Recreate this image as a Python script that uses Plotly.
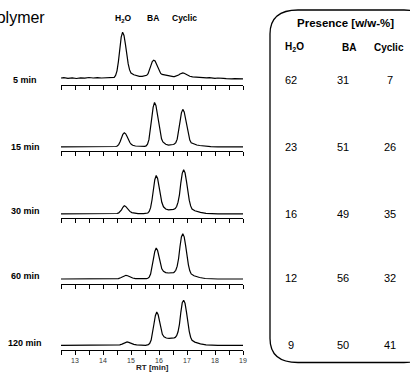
import plotly.graph_objects as go

# ---------------- data ----------------
panel_labels = ["5 min", "15 min", "30 min", "60 min", "120 min"]
peak_names = ["H<sub>2</sub>O", "BA", "Cyclic"]

rt_5min = [12.5, 12.6, 12.75, 12.9, 13.05, 13.2, 13.35, 13.5, 13.65, 13.8, 13.95, 14.1, 14.25, 14.35,
           14.40, 14.45, 14.50, 14.55, 14.60, 14.65, 14.70, 14.75, 14.80, 14.85, 14.90, 14.95, 15.00,
           15.10, 15.20, 15.30, 15.40, 15.46, 15.51, 15.56, 15.61, 15.66, 15.71, 15.76, 15.81, 15.86,
           15.91, 15.96, 16.01, 16.06, 16.11, 16.21, 16.31, 16.41, 16.51, 16.55, 16.60, 16.65, 16.70,
           16.75, 16.80, 16.85, 16.90, 16.95, 17.00, 17.05, 17.10, 17.20, 17.30, 17.40, 17.50, 17.60,
           17.70, 17.80, 17.90, 18.0, 18.1, 18.2, 18.3, 18.4, 18.5, 18.6, 18.7, 18.8, 18.9, 19.0]
sig_5min = [0.2, 0.5, -0.2, 0.3, -0.3, 0.4, 0.1, 0.7, 0.2, 0.6, 0.2, 0.5, 0.3, 0.6,
            0.9, 2.8, 7.4, 16.6, 29.4, 41, 46, 42.8, 34, 23.5, 14.3, 8.3, 5.2,
            3.4, 2.5, 1.9, 1.8, 2.0, 2.3, 2.9, 4.6, 7.8, 12.6, 16.6, 18, 17.2,
            13.8, 9.8, 6.5, 4.8, 3.8, 3.1, 2.2, 1.7, 1.5, 1.6, 1.9, 2.4, 3.2,
            4.2, 5.0, 5.3, 5.0, 4.2, 3.3, 2.5, 1.9, 1.4, 1.1, 1.0, 0.8, 0.6,
            0.4, 0.6, 0.1, -0.2, 0.2, -0.3, -0.1, -0.5, -0.2, -0.6, -0.4, -0.7, -0.5, -0.6]

rt_15min = [12.5, 13.0, 13.5, 14.0, 14.3, 14.40, 14.46, 14.51, 14.56, 14.61, 14.66, 14.71, 14.76,
            14.81, 14.86, 14.91, 14.96, 15.01, 15.06, 15.16, 15.30, 15.44, 15.49, 15.54, 15.59,
            15.64, 15.69, 15.74, 15.79, 15.84, 15.89, 15.94, 15.99, 16.04, 16.09, 16.14, 16.24,
            16.34, 16.44, 16.50, 16.55, 16.60, 16.65, 16.70, 16.75, 16.80, 16.85, 16.90, 16.95,
            17.00, 17.05, 17.10, 17.15, 17.25, 17.35, 17.45, 17.65, 17.85, 18.1, 18.5, 19.0]
sig_15min = [0, 0, 0, 0, 0, 0.1, 0.3, 0.8, 2.2, 5.0, 9.0, 12.5, 14.0,
             13.0, 10.4, 7.1, 4.3, 2.5, 1.5, 0.8, 0.4, 0.3, 0.4, 0.9, 2.7,
             7.1, 16.0, 28.4, 39.5, 44.4, 41.3, 32.9, 22.6, 13.8, 8.0, 4.9, 2.5,
             1.7, 1.8, 2.3, 2.8, 4.2, 7.6, 14.5, 25.0, 34.0, 37.4, 34.8, 27.7,
             19.1, 11.6, 6.7, 4.1, 2.6, 1.8, 1.3, 0.5, 0.1, 0, 0, 0]

rt_30min = [12.5, 13.0, 13.5, 14.0, 14.4, 14.50, 14.56, 14.61, 14.66, 14.71, 14.76, 14.81, 14.86,
            14.91, 14.96, 15.03, 15.12, 15.25, 15.45, 15.55, 15.60, 15.65, 15.70, 15.75, 15.80,
            15.85, 15.90, 15.95, 16.00, 16.05, 16.10, 16.16, 16.24, 16.34, 16.44, 16.52, 16.58,
            16.63, 16.68, 16.73, 16.78, 16.83, 16.88, 16.93, 16.98, 17.03, 17.08, 17.13, 17.18,
            17.28, 17.38, 17.48, 17.68, 17.88, 18.1, 18.5, 19.0]
sig_30min = [0, 0, 0, 0, 0, 0.3, 0.9, 2.0, 4.0, 6.5, 8.0, 7.4, 5.8,
             3.9, 2.4, 1.2, 0.5, 0.2, 0.1, 0.2, 0.8, 2.3, 6.1, 13.8, 24.5,
             34.1, 38.3, 35.4, 27.5, 18.5, 11.5, 7.0, 4.8, 4.0, 4.0, 4.4, 5.2,
             7.3, 11.6, 19.0, 31.0, 40.5, 44.0, 41.0, 32.6, 22.4, 13.6, 7.9, 4.8,
             3.1, 2.1, 1.4, 0.5, 0.1, 0, 0, 0]

rt_60min = [12.5, 13.0, 13.5, 14.0, 14.45, 14.55, 14.63, 14.70, 14.77, 14.82, 14.88, 14.96, 15.06,
            15.16, 15.30, 15.45, 15.55, 15.60, 15.65, 15.70, 15.75, 15.80, 15.85, 15.90, 15.95,
            16.00, 16.05, 16.10, 16.16, 16.24, 16.34, 16.44, 16.52, 16.55, 16.60, 16.65, 16.70,
            16.75, 16.80, 16.85, 16.90, 16.95, 17.00, 17.05, 17.10, 17.15, 17.25, 17.35, 17.45,
            17.65, 17.85, 18.1, 18.5, 19.0]
sig_60min = [0, 0, 0, 0, 0, 0.4, 1.2, 2.4, 3.4, 3.7, 3.3, 2.2, 1.0,
             0.4, 0.1, 0.1, 0.3, 0.7, 1.9, 5.0, 11.2, 19.8, 27.6, 31.0, 28.5,
             21.8, 15.0, 10.2, 7.6, 6.4, 6.0, 6.0, 6.4, 7.0, 8.7, 12.8, 20.5,
             32.5, 42.0, 45.3, 42.2, 33.6, 23.2, 14.2, 8.2, 5.1, 3.2, 2.2, 1.5,
             0.5, 0.1, 0, 0, 0]

rt_120min = [12.5, 13.0, 13.5, 14.0, 14.5, 14.60, 14.68, 14.75, 14.81, 14.86, 14.92, 15.00, 15.10,
             15.20, 15.35, 15.52, 15.62, 15.67, 15.72, 15.77, 15.82, 15.87, 15.92, 15.97, 16.02,
             16.07, 16.12, 16.18, 16.26, 16.36, 16.46, 16.54, 16.58, 16.63, 16.68, 16.73, 16.78,
             16.83, 16.88, 16.93, 16.98, 17.03, 17.08, 17.13, 17.18, 17.28, 17.38, 17.48, 17.68,
             17.88, 18.1, 18.5, 19.0]
sig_120min = [0, 0, 0, 0, 0, 0.4, 1.2, 2.3, 3.1, 3.3, 2.9, 1.9, 0.9,
              0.4, 0.1, 0, 0.7, 2.0, 5.3, 12.0, 21.3, 29.6, 33.3, 30.5, 23.5,
              16.0, 11.0, 8.5, 7.3, 7.0, 7.0, 7.5, 7.9, 9.7, 13.5, 21.0, 33.0,
              42.5, 45.0, 42.0, 33.5, 23.0, 14.0, 8.1, 5.0, 3.2, 2.2, 1.5, 0.5,
              0.1, 0, 0, 0]

table_title = "Presence [w/w-%]"
presence_h2o = [62, 23, 16, 12, 9]
presence_ba = [31, 51, 49, 56, 50]
presence_cyclic = [7, 26, 35, 32, 41]

tick_vals = [13, 14, 15, 16, 17, 18, 19]
tick_labels = ["13", "14", "15", "16", "17", "18", "19"]
minor_tick_vals = [12.5, 13.5, 14.5, 15.5, 16.5, 17.5, 18.5]
x_title = "RT [min]"
corner_title = "Polymer"

rts = [rt_5min, rt_15min, rt_30min, rt_60min, rt_120min]
sigs = [sig_5min, sig_15min, sig_30min, sig_60min, sig_120min]

# ---------------- layout geometry ----------------
W, H = 410, 381
L, R, T, B = 61, 167, 19, 31
PW, PH = W - L - R, H - T - B
n = len(panel_labels)
panel_px = PH / n
base_offsets = [7, 4.6, 3.8, 4.8, 4.7]  # px of baseline above each axis line


def px_x(px):
    return (px - L) / PW


def px_y(py):
    return (H - B - py) / PH


FONT = "Liberation Sans, Arial, sans-serif"

fig = go.Figure()
layout = dict(
    width=W, height=H,
    margin=dict(l=L, r=R, t=T, b=B, autoexpand=False),
    paper_bgcolor="white", plot_bgcolor="white",
    showlegend=False,
    font=dict(family=FONT, color="black"),
)

for i in range(n):
    k = "" if i == 0 else str(i + 1)
    fig.add_trace(go.Scatter(
        x=rts[i], y=sigs[i], mode="lines",
        line=dict(color="black", width=1.2),
        xaxis="x" + k, yaxis="y" + k, hoverinfo="skip",
    ))
    d0 = (n - 1 - i) / n
    d1 = (n - i) / n
    layout["xaxis" + k] = dict(
        range=[12.5, 19], anchor="y" + k, domain=[0, 1],
        showline=True, linecolor="black", linewidth=1,
        ticks="outside", ticklen=4, tickwidth=1, tickcolor="black",
        tickmode="array", tickvals=tick_vals, ticktext=tick_labels,
        minor=dict(tickmode="array", tickvals=minor_tick_vals, ticks="outside",
                   ticklen=4, tickwidth=1, tickcolor="black", showgrid=False),
        showticklabels=(i == n - 1),
        tickfont=dict(size=7, color="#333", family=FONT),
        showgrid=False, zeroline=False, fixedrange=True,
    )
    off = base_offsets[i]
    layout["yaxis" + k] = dict(
        domain=[d0, d1], anchor="x" + k,
        range=[-off, panel_px - off], visible=False,
        showgrid=False, zeroline=False, fixedrange=True,
    )

fig.update_layout(**layout)

ann = []
# corner title (partly cut at the left edge, as in the reference)
ann.append(dict(x=px_x(47), y=px_y(18), text=corner_title, xanchor="right", yanchor="middle",
                font=dict(size=16, family=FONT, color="black")))
# peak headers
for name, xp in zip(peak_names, [122.7, 153, 184.3]):
    ann.append(dict(x=px_x(xp), y=px_y(18.5), text="<b>" + name + "</b>", xanchor="center",
                    yanchor="middle", font=dict(size=8.5, family=FONT, color="black")))
# panel labels
for lab, yp in zip(panel_labels, [80, 147, 211, 276, 343]):
    ann.append(dict(x=px_x(25), y=px_y(yp), text="<b>" + lab + "</b>", xanchor="center",
                    yanchor="middle", font=dict(size=9, family=FONT, color="black")))
# x axis title
ann.append(dict(x=px_x(152), y=px_y(367.5), text="<b>" + x_title + "</b>", xanchor="center",
                yanchor="middle", font=dict(size=8, family=FONT, color="#222")))
# table
ann.append(dict(x=px_x(345), y=px_y(23.3), text="<b>" + table_title + "</b>", xanchor="center",
                yanchor="middle", font=dict(size=11.5, family=FONT, color="black")))
for name, xp in zip(peak_names, [294, 349, 389]):
    ann.append(dict(x=px_x(xp), y=px_y(47.3), text="<b>" + name + "</b>", xanchor="center",
                    yanchor="middle", font=dict(size=10, family=FONT, color="black")))
row_y = [80, 146.7, 214, 278.3, 345]
for col, xp in zip([presence_h2o, presence_ba, presence_cyclic], [291, 343, 390]):
    for v, yp in zip(col, row_y):
        ann.append(dict(x=px_x(xp), y=px_y(yp), text=str(v), xanchor="center", yanchor="middle",
                        font=dict(size=11, family=FONT, color="black")))
for a in ann:
    a.update(xref="paper", yref="paper", showarrow=False)
fig.update_layout(annotations=ann)

# rounded box around the table
x0, x1, y0, y1 = 270, 432, 10, 362.5
rx, ry = 28, 24
pts = [
    ("M", [(x0, y0 + ry)]),
    ("Q", [(x0, y0), (x0 + rx, y0)]),
    ("L", [(x1 - rx, y0)]),
    ("Q", [(x1, y0), (x1, y0 + ry)]),
    ("L", [(x1, y1 - ry)]),
    ("Q", [(x1, y1), (x1 - rx, y1)]),
    ("L", [(x0 + rx, y1)]),
    ("Q", [(x0, y1), (x0, y1 - ry)]),
]
path = ""
for cmd, ps in pts:
    path += cmd + " " + " ".join("%.5f,%.5f" % (px_x(a), px_y(b)) for a, b in ps) + " "
path += "Z"
fig.add_shape(type="path", path=path, xref="paper", yref="paper",
              line=dict(color="black", width=1.3), fillcolor="rgba(0,0,0,0)")

fig.write_html("out.html", config={"displayModeBar": False},
               post_script="document.body.style.margin='0px';document.body.style.overflow='hidden';")
